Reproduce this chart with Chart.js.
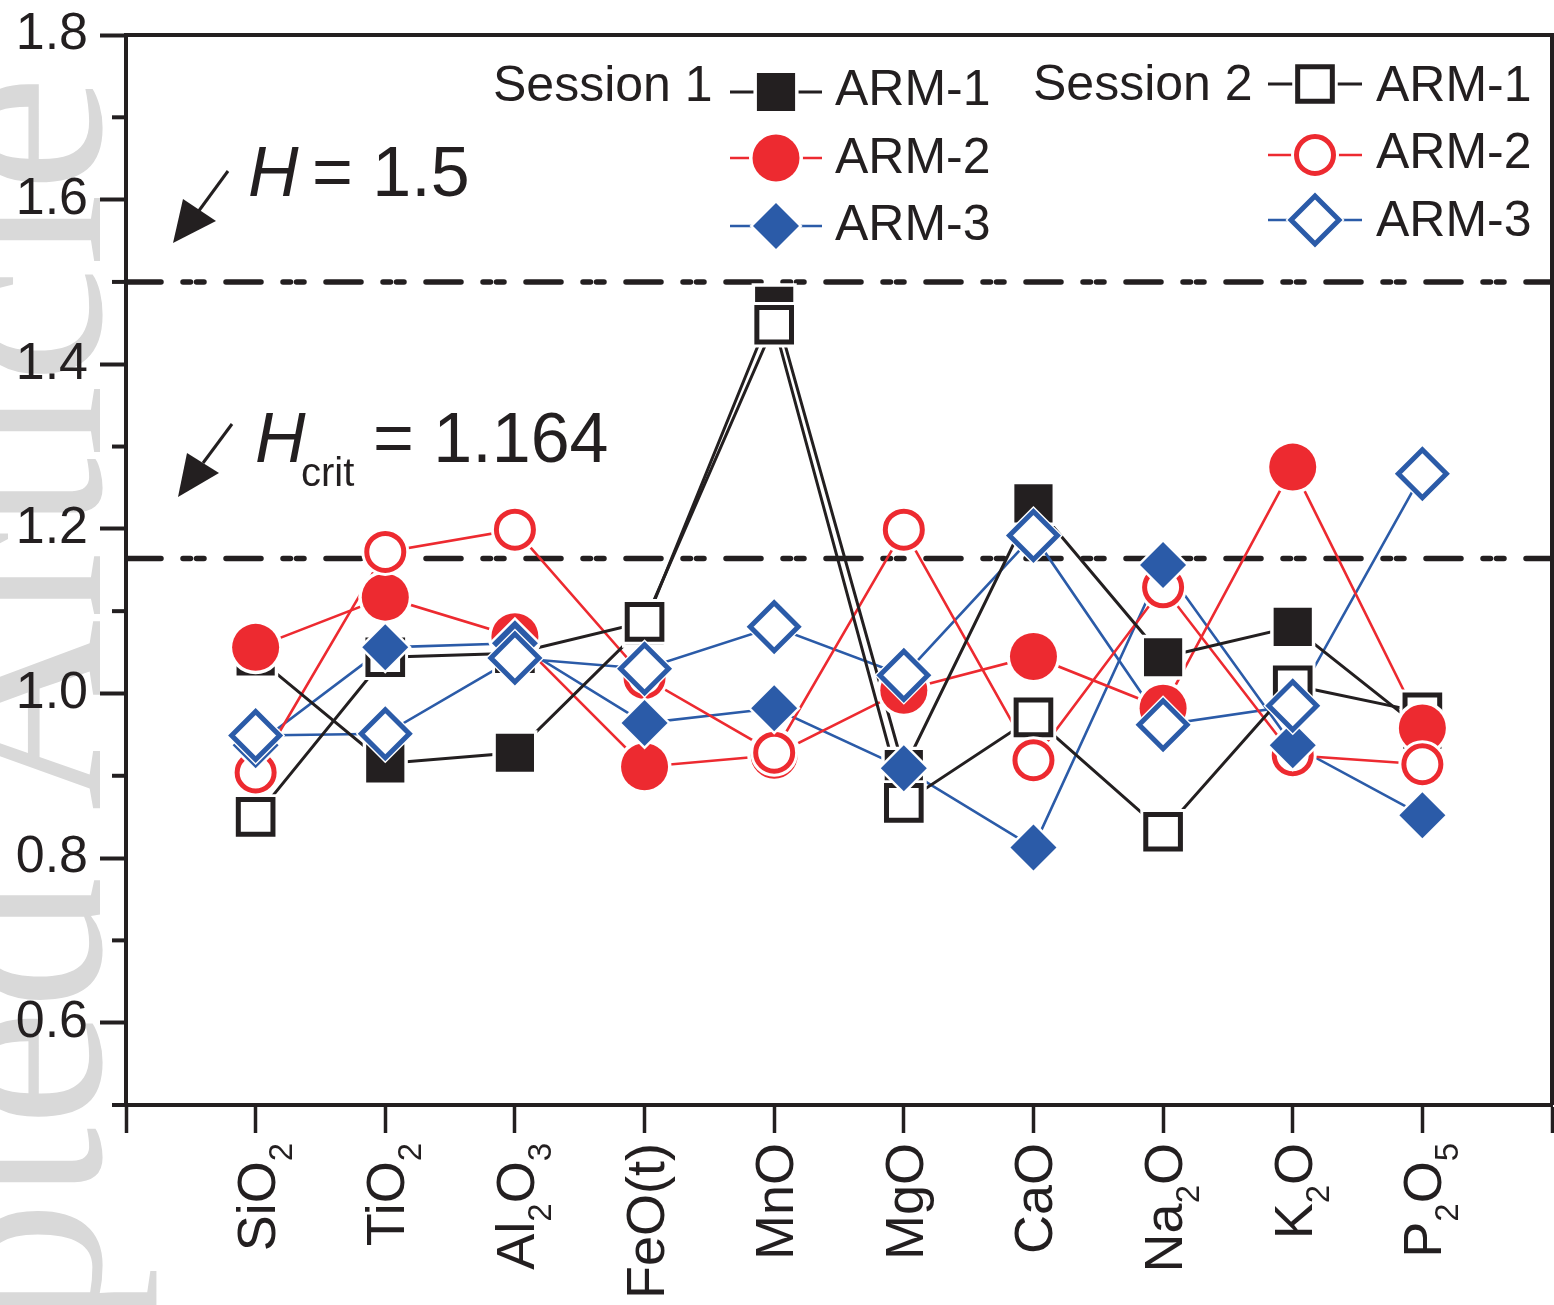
<!DOCTYPE html>
<html><head><meta charset="utf-8">
<script src="https://cdn.jsdelivr.net/npm/chart.js@4.4.1/dist/chart.umd.min.js"></script>
<style>html,body{margin:0;padding:0;background:#fff;}canvas{display:block;}</style>
</head><body>
<canvas id="c" width="1554" height="1305"></canvas>
<script>
// ---- data ----
const categories = ['SiO2','TiO2','Al2O3','FeO(t)','MnO','MgO','CaO','Na2O','K2O','P2O5'];
const s1Arm1 = [1.045, 0.915, 0.928, 1.083, 1.471, 0.908, 1.231, 1.044, 1.081, 0.956];
const s1Arm2 = [1.056, 1.117, 1.069, 0.911, 0.925, 1.004, 1.045, 0.982, 1.275, 0.958];
const s1Arm3 = [0.937, 1.056, 1.061, 0.964, 0.982, 0.909, 0.813, 1.156, 0.937, 0.852];
const s2Arm1 = [0.850, 1.044, 1.049, 1.087, 1.448, 0.867, 0.971, 0.832, 1.010, 0.977];
const s2Arm2 = [0.904, 1.172, 1.199, 1.019, 0.928, 1.199, 0.919, 1.129, 0.925, 0.914];
const s2Arm3 = [0.949, 0.951, 1.043, 1.030, 1.081, 1.022, 1.192, 0.962, 0.985, 1.267];
const yTickLabels = ['0.6','0.8','1.0','1.2','1.4','1.6','1.8'];
const refLines = [1.5, 1.164];
const seriesNames = ['ARM-1','ARM-2','ARM-3'];
const sessionNames = ['Session 1','Session 2'];

// ---- styles ----
const FONT = '"Liberation Sans", Arial, Helvetica, sans-serif';
const BLACK = '#231f20', RED = '#ed2a30', BLUE = '#2b5ba8';
const series = [
  {data:s1Arm1, color:BLACK, style:'rect',    r:27,   filled:true,  lw:3},
  {data:s2Arm1, color:BLACK, style:'rect',    r:24.5, filled:false, lw:3},
  {data:s1Arm2, color:RED,   style:'circle',  r:23.5, filled:true,  lw:2.6},
  {data:s2Arm2, color:RED,   style:'circle',  r:18.5, filled:false, lw:2.6},
  {data:s1Arm3, color:BLUE,  style:'rectRot', r:23,   filled:true,  lw:2.6},
  {data:s2Arm3, color:BLUE,  style:'rectRot', r:24,   filled:false, lw:2.6}
];
const OPEN_BW = 5;
const LABEL_PX = 54, SUB_PX = 33;

const pts = arr => arr.map((v,i)=>({x:i,y:v}));
const datasets = [];
refLines.forEach(v => datasets.push({
  data:[{x:-1,y:v},{x:10,y:v}], showLine:true, borderColor:BLACK, borderWidth:5.5,
  borderDash:[35,22,7.5,6,7.5,22], borderCapStyle:'round', pointRadius:0, order:300
}));
series.forEach(s => datasets.push({
  data:pts(s.data), showLine:true, borderColor:s.color, borderWidth:s.lw,
  pointRadius:0, tension:0, order:200
}));
// markers: last series on top
series.forEach((s,k) => {
  const base = (series.length-1-k)*2;
  const halo = s.filled ? 3.5 : 5.5;
  datasets.push({
    data:pts(s.data), showLine:false, pointStyle:s.style,
    pointRadius:s.r + (s.style==='rect'?halo*1.4:halo),
    pointBackgroundColor:'#ffffff', pointBorderWidth:0, order:base+1
  });
  datasets.push({
    data:pts(s.data), showLine:false, pointStyle:s.style, pointRadius:s.r,
    pointBackgroundColor:s.filled ? s.color : '#ffffff',
    pointBorderColor:s.color, pointBorderWidth:s.filled ? 0 : OPEN_BW, order:base
  });
});

function markerPath(ctx, style, x, y, r){
  ctx.beginPath();
  if (style==='circle'){ ctx.arc(x,y,r,0,Math.PI*2); }
  else if (style==='rect'){ const h=Math.SQRT1_2*r; ctx.rect(x-h,y-h,2*h,2*h); }
  else { ctx.moveTo(x-r,y); ctx.lineTo(x,y-r); ctx.lineTo(x+r,y); ctx.lineTo(x,y+r); }
  ctx.closePath();
}

const decor = {
  id:'decor',
  beforeDraw(chart){
    const ctx = chart.ctx;
    ctx.save();
    ctx.fillStyle='#fff'; ctx.fillRect(0,0,chart.width,chart.height);
    // watermark
    ctx.translate(100,75); ctx.rotate(-Math.PI/2);
    ctx.font = '265px "Liberation Serif", "Times New Roman", serif';
    ctx.fillStyle = '#d9d9d9'; ctx.textAlign='right'; ctx.textBaseline='alphabetic';
    ctx.fillText('Accepted Article', 0, 0);
    ctx.restore();
  },
  afterDraw(chart){
    const ctx = chart.ctx, xs = chart.scales.x, ys = chart.scales.y, a = chart.chartArea;
    ctx.save();
    ctx.strokeStyle = BLACK; ctx.fillStyle = BLACK; ctx.lineCap='butt';
    // top & right frame
    ctx.lineWidth = 4;
    ctx.beginPath(); ctx.moveTo(a.left-2, a.top); ctx.lineTo(chart.width, a.top); ctx.stroke();
    ctx.beginPath(); ctx.moveTo(a.right, a.top); ctx.lineTo(a.right, a.bottom); ctx.stroke();
    // minor y ticks
    for (let k=5; k<18; k+=2){
      const py = ys.getPixelForValue(k/10);
      ctx.beginPath(); ctx.moveTo(a.left-14, py); ctx.lineTo(a.left, py); ctx.stroke();
    }
    // x category labels (rotated, with subscripts)
    categories.forEach((c,i)=>{
      const parts = c.split(/(\d+)/).filter(s=>s).map(s=>({t:s, sub:/^\d+$/.test(s)}));
      ctx.save();
      ctx.translate(xs.getPixelForValue(i), a.bottom+38);
      ctx.rotate(-Math.PI/2);
      ctx.textAlign='left'; ctx.textBaseline='alphabetic';
      const widths = parts.map(p=>{ ctx.font=(p.sub?SUB_PX:LABEL_PX)+'px '+FONT; return ctx.measureText(p.t).width; });
      let x = -widths.reduce((q,w)=>q+w,0);
      parts.forEach((p,k)=>{ ctx.font=(p.sub?SUB_PX:LABEL_PX)+'px '+FONT; ctx.fillText(p.t, x, p.sub?36:19); x+=widths[k]; });
      ctx.restore();
    });
    // legend
    const rows = [
      {s:0, x0:730, x1:822, mx:776, ys:[92,158,226]},
      {s:1, x0:1268, x1:1362, mx:1315, ys:[84,155,220]}
    ];
    ctx.font = '50px '+FONT; ctx.textAlign='left'; ctx.textBaseline='alphabetic';
    ctx.fillStyle=BLACK;
    ctx.fillText(sessionNames[0], 493, 101);
    ctx.fillText(sessionNames[1], 1033, 100);
    const textPos = [[[835,105],[835,173],[835,240]],[[1376,101],[1376,168],[1376,236]]];
    rows.forEach(row=>{
      for (let j=0;j<3;j++){
        const s = series[j*2+row.s], y=row.ys[j];
        ctx.strokeStyle=s.color; ctx.lineWidth=s.lw;
        ctx.beginPath(); ctx.moveTo(row.x0,y); ctx.lineTo(row.x1,y); ctx.stroke();
        const halo = s.filled?3.5:5.5;
        markerPath(ctx, s.style, row.mx, y, s.r+(s.style==='rect'?halo*1.4:halo));
        ctx.fillStyle='#fff'; ctx.fill();
        markerPath(ctx, s.style, row.mx, y, s.r);
        if (s.filled){ ctx.fillStyle=s.color; ctx.fill(); }
        else { ctx.fillStyle='#fff'; ctx.fill(); ctx.strokeStyle=s.color; ctx.lineWidth=OPEN_BW; ctx.stroke(); }
        ctx.fillStyle=BLACK; ctx.font='50px '+FONT;
        ctx.fillText(seriesNames[j], textPos[row.s][j][0], textPos[row.s][j][1]);
      }
    });
    // annotations
    ctx.fillStyle=BLACK; ctx.strokeStyle=BLACK; ctx.lineWidth=3;
    ctx.font='italic 70px '+FONT; ctx.fillText('H', 248, 196);
    ctx.font='70px '+FONT; ctx.fillText('= 1.5', 312, 196);
    ctx.font='italic 70px '+FONT; ctx.fillText('H', 255, 462);
    ctx.font='40px '+FONT; ctx.fillText('crit', 301, 486);
    ctx.font='70px '+FONT; ctx.fillText('= 1.164', 373, 462);
    const arrow = (lx0,ly0,lx1,ly1,tri)=>{
      ctx.beginPath(); ctx.moveTo(lx0,ly0); ctx.lineTo(lx1,ly1); ctx.stroke();
      ctx.beginPath(); ctx.moveTo(tri[0],tri[1]); ctx.lineTo(tri[2],tri[3]); ctx.lineTo(tri[4],tri[5]); ctx.closePath(); ctx.fill();
    };
    arrow(228,171,198,212,[173,243,183,199,216,221]);
    arrow(232,424,203,463,[178,497,187,453,219,473]);
    ctx.restore();
  }
};

const zeroPad = s => { s.paddingTop = 0; s.paddingBottom = 0; s.paddingLeft = 0; s.paddingRight = 0; };

new Chart(document.getElementById('c'), {
  type:'scatter',
  data:{datasets},
  options:{
    responsive:false, animation:false, devicePixelRatio:1, events:[],
    layout:{autoPadding:false, padding:{top:35,right:2,left:0,bottom:0}},
    plugins:{legend:{display:false}, tooltip:{enabled:false}},
    scales:{
      x:{type:'linear', min:-1, max:10,
        ticks:{stepSize:1, autoSkip:false, callback:()=>'', font:{size:10}},
        grid:{drawOnChartArea:false, tickLength:28, tickWidth:3.5, tickColor:BLACK},
        border:{width:4, color:BLACK},
        afterFit(s){ s.height = 200; zeroPad(s); }
      },
      y:{type:'linear', min:0.5, max:1.8,
        ticks:{stepSize:0.1, autoSkip:false, padding:12, color:BLACK,
          font:{size:52, family:FONT},
          callback:(v)=>{ const l = yTickLabels.find(t=>Math.abs(parseFloat(t)-v)<1e-6); return l||''; }},
        grid:{drawOnChartArea:false, tickLength:26, tickWidth:4,
          tickColor:(c)=>{ const n=Math.round(c.tick.value*10); return (n%2===0 && n>=6)?BLACK:'rgba(0,0,0,0)'; }},
        border:{width:4, color:BLACK},
        afterFit(s){ s.width = 126; zeroPad(s); }
      }
    }
  },
  plugins:[decor]
});
</script>
</body></html>
